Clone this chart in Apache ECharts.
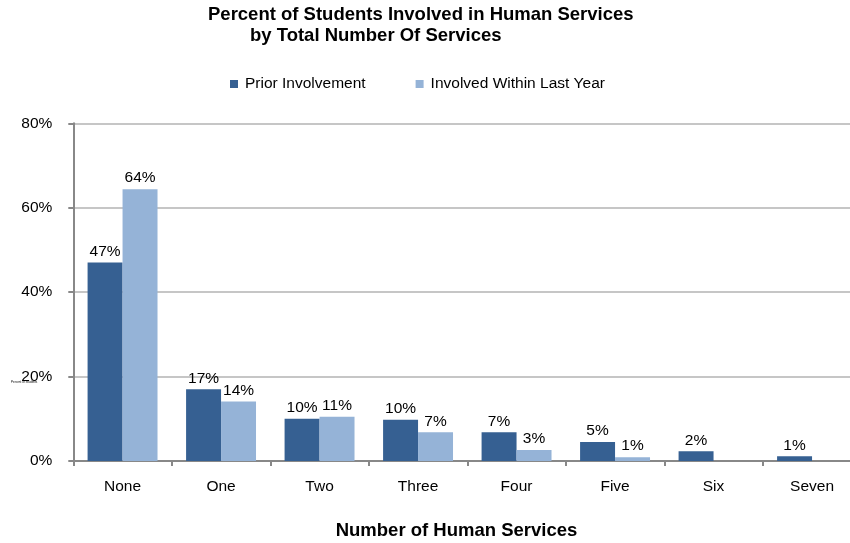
<!DOCTYPE html>
<html>
<head>
<meta charset="utf-8">
<script src="https://cdn.jsdelivr.net/npm/echarts@6/dist/echarts.min.js"></script>
<style>html,body{margin:0;padding:0;background:#fff}#c{width:850px;height:543px}</style>
</head>
<body>
<div id="c"></div>
<script>
const categories = ['None', 'One', 'Two', 'Three', 'Four', 'Five', 'Six', 'Seven'];
const priorInvolvement = [47.0, 17.0, 10.0, 9.8, 6.8, 4.5, 2.3, 1.1];
const withinLastYear = [64.4, 14.1, 10.5, 6.8, 2.6, 0.9, null, null];
const yTicks = [0, 20, 40, 60, 80];

const chart = echarts.init(document.getElementById('c'));
const font = '"Liberation Sans", Arial, sans-serif';
const labelCfg = {
  show: true, position: 'top', distance: 3, color: '#000', fontSize: 15.5, fontFamily: font,
  formatter: p => (p.value == null ? '' : Math.round(p.value) + '%')
};
chart.setOption({
  animation: false,
  title: [
    { text: 'Percent of Students Involved in Human Services', left: 208, top: 5.5, padding: 0,
      textStyle: { fontSize: 18.5, fontWeight: 'bold', color: '#000', fontFamily: font } },
    { text: 'by Total Number Of Services', left: 250, top: 26.5, padding: 0,
      textStyle: { fontSize: 18.5, fontWeight: 'bold', color: '#000', fontFamily: font } }
  ],
  legend: {
    left: 230, top: 76, itemWidth: 8, itemHeight: 8, itemGap: 50, padding: 0,
    icon: 'rect',
    textStyle: { fontSize: 15.5, color: '#000', fontFamily: font, padding: [0, 0, 0, 2] },
    data: ['Prior Involvement', 'Involved Within Last Year']
  },
  graphic: [
    { type: 'text', left: 11, top: 381,
      style: { text: 'Percent of Students', fontSize: 3, fill: '#000', fontFamily: font } },
    { type: 'text', x: 456.5, y: 531,
      style: { text: 'Number of Human Services', fontSize: 18.5, fontWeight: 'bold', fill: '#000',
               fontFamily: font, align: 'center', verticalAlign: 'middle' } }
  ],
  grid: { left: 73.3, right: -11.3, top: 123.3, bottom: 82, containLabel: false, outerBoundsMode: 'none' },
  xAxis: {
    type: 'category', data: categories,
    axisLine: { lineStyle: { color: '#888888', width: 2 } },
    axisTick: { show: true, length: 5, lineStyle: { color: '#888888', width: 2 } },
    axisLabel: { fontSize: 15.5, color: '#000', margin: 18, fontFamily: font }
  },
  yAxis: {
    type: 'value', min: yTicks[0], max: yTicks[yTicks.length - 1], interval: 20,
    axisLine: { show: true, lineStyle: { color: '#888888', width: 2 } },
    axisTick: { show: true, length: 5, lineStyle: { color: '#888888', width: 2 } },
    axisLabel: { fontSize: 15.5, color: '#000', margin: 21, fontFamily: font, formatter: v => v + '%' },
    splitLine: { lineStyle: { color: '#C6C6C6', width: 2 } }
  },
  series: [
    { name: 'Prior Involvement', type: 'bar', data: priorInvolvement,
      itemStyle: { color: '#366092' }, barGap: '0%', barCategoryGap: '29%', label: labelCfg },
    { name: 'Involved Within Last Year', type: 'bar', data: withinLastYear,
      itemStyle: { color: '#95B3D7' }, label: labelCfg }
  ]
});
</script>
</body>
</html>
